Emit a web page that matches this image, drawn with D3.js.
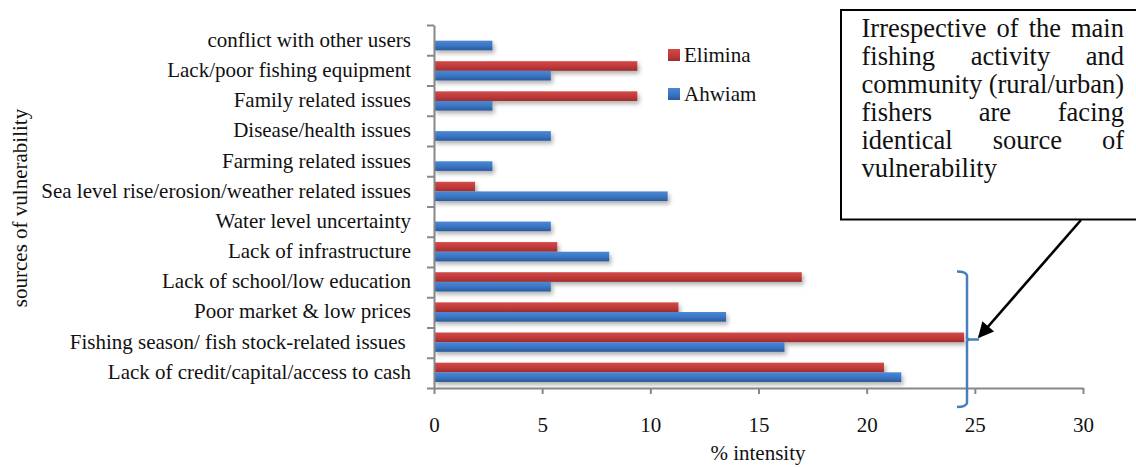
<!DOCTYPE html>
<html>
<head>
<meta charset="utf-8">
<script src="https://cdn.jsdelivr.net/npm/d3@7/dist/d3.min.js"></script>
<style>
  html, body { margin: 0; padding: 0; background: #fff; }
  svg { display: block; font-family: "Liberation Serif", "Times New Roman", serif; }
</style>
</head>
<body>
<svg id="chart" width="1136" height="467"></svg>
<script>
// Sources of vulnerability, listed top to bottom as they appear on the axis
const categories = [
  "conflict with other users",
  "Lack/poor fishing equipment",
  "Family related issues",
  "Disease/health issues",
  "Farming related issues",
  "Sea level rise/erosion/weather related issues",
  "Water level uncertainty",
  "Lack of infrastructure",
  "Lack of school/low education",
  "Poor market & low prices",
  "Fishing season/ fish stock-related issues ",
  "Lack of credit/capital/access to cash"
];
const seriesNames = ["Elimina", "Ahwiam"];
const elimina = [0, 9.4, 9.4, 0, 0, 1.9, 0, 5.7, 17.0, 11.3, 24.5, 20.8];
const ahwiam  = [2.7, 5.4, 2.7, 5.4, 2.7, 10.8, 5.4, 8.1, 5.4, 13.5, 16.2, 21.6];
const xTicks = [0, 5, 10, 15, 20, 25, 30];
const noteLines = [
  "Irrespective of the main",
  "fishing activity and",
  "community (rural/urban)",
  "fishers are facing",
  "identical source of",
  "vulnerability"
];

const FONT = "Liberation Serif, Times New Roman, serif";
const svg = d3.select("#chart");
const plot = { left: 434, right: 1083, top: 25, bottom: 388 };
const axisColor = "#878787";

const x = d3.scaleLinear().domain([0, 30]).range([plot.left, plot.right]);
const y = d3.scaleBand().domain(categories).range([plot.top, plot.bottom])
  .paddingInner(0.36).paddingOuter(0.2);
const ySub = d3.scaleBand().domain(seriesNames).range([0, y.bandwidth()]);
const color = { Elimina: ["#d24a48", "#c0393a", "#9c2d2e"], Ahwiam: ["#4a88d4", "#3a74c2", "#2c5998"] };

const defs = svg.append("defs");
seriesNames.forEach(name => {
  const g = defs.append("linearGradient").attr("id", "grad-" + name)
    .attr("x1", 0).attr("y1", 0).attr("x2", 0).attr("y2", 1);
  g.append("stop").attr("offset", "0%").attr("stop-color", color[name][0]);
  g.append("stop").attr("offset", "55%").attr("stop-color", color[name][1]);
  g.append("stop").attr("offset", "100%").attr("stop-color", color[name][2]);
});
const shadow = defs.append("filter").attr("id", "shadow")
  .attr("x", "-5%").attr("y", "-50%").attr("width", "120%").attr("height", "250%");
shadow.append("feDropShadow").attr("dx", 2).attr("dy", 3).attr("stdDeviation", 2)
  .attr("flood-color", "#000").attr("flood-opacity", 0.3);
defs.append("marker").attr("id", "arrowhead").attr("viewBox", "0 0 10 10")
  .attr("refX", 9).attr("refY", 5).attr("markerWidth", 7).attr("markerHeight", 6)
  .attr("markerUnits", "strokeWidth").attr("orient", "auto")
  .append("path").attr("d", "M0,0 L10,5 L0,10 z").attr("fill", "#000");

// Bars
const rows = categories.map((c, i) => ({ cat: c, Elimina: elimina[i], Ahwiam: ahwiam[i] }));
const groups = svg.append("g").selectAll("g").data(rows).join("g")
  .attr("transform", d => `translate(0,${y(d.cat)})`);
groups.selectAll("rect")
  .data(d => seriesNames.map(s => ({ s, v: d[s] })).filter(e => e.v > 0))
  .join("rect")
  .attr("x", x(0))
  .attr("y", d => ySub(d.s))
  .attr("width", d => x(d.v) - x(0))
  .attr("height", ySub.bandwidth())
  .attr("fill", d => `url(#grad-${d.s})`)
  .attr("filter", "url(#shadow)");

// X axis
const xAxis = svg.append("g").attr("transform", `translate(0,${plot.bottom})`)
  .call(d3.axisBottom(x).tickValues(xTicks).tickSize(6).tickSizeOuter(0).tickPadding(23));
xAxis.select(".domain").attr("stroke", axisColor).attr("stroke-width", 2);
xAxis.selectAll(".tick line").attr("stroke", axisColor).attr("stroke-width", 2);
xAxis.selectAll(".tick text").attr("font-size", 21).attr("fill", "#111")
  .attr("font-family", FONT);

// Y axis: ticks on category boundaries
const yEdge = d3.scaleLinear().domain([0, categories.length]).range([plot.top, plot.bottom]);
const yAxis = svg.append("g").attr("transform", `translate(${plot.left},0)`)
  .call(d3.axisLeft(yEdge).tickValues(d3.range(categories.length + 1)).tickSize(7)
    .tickSizeOuter(0).tickFormat(""));
yAxis.select(".domain").attr("stroke", axisColor).attr("stroke-width", 2);
yAxis.selectAll(".tick line").attr("stroke", axisColor).attr("stroke-width", 2);

// Category labels
svg.append("g").selectAll("text").data(categories).join("text")
  .attr("x", 411)
  .attr("y", d => y(d) + y.bandwidth() / 2 - 1)
  .attr("dy", "0.35em")
  .attr("text-anchor", "end")
  .attr("font-family", FONT)
  .attr("font-size", 21)
  .attr("fill", "#111")
  .style("white-space", "pre")
  .text(d => d);

// Axis titles
svg.append("text").attr("x", 758).attr("y", 460).attr("text-anchor", "middle")
  .attr("font-family", FONT).attr("font-size", 21).attr("fill", "#111").text("% intensity");
svg.append("text").attr("transform", "translate(27,208) rotate(-90)")
  .attr("text-anchor", "middle").attr("font-family", FONT).attr("font-size", 21).attr("fill", "#111")
  .text("sources of vulnerability");

// Legend
const legendY = [{ s: "Elimina", y: 49 }, { s: "Ahwiam", y: 88 }];
const legend = svg.append("g");
legend.selectAll("rect").data(legendY).join("rect")
  .attr("x", 668).attr("y", d => d.y).attr("width", 12).attr("height", 12)
  .attr("fill", d => `url(#grad-${d.s})`);
legend.selectAll("text").data(legendY).join("text")
  .attr("x", 684).attr("y", d => d.y + 13).attr("font-family", FONT)
  .attr("font-size", 21).attr("fill", "#111")
  .text(d => d.s);

// Bracket grouping the two leading sources
const bx = 967, bTop = 271.5, bBot = 407, bMid = 339.5;
svg.append("path")
  .attr("d", `M957,${bTop} Q966,${bTop} ${bx},${bTop + 4} L${bx},${bMid - 2} Q${bx},${bMid} ${bx + 3},${bMid} L979,${bMid}
              M${bx + 3},${bMid} Q${bx},${bMid} ${bx},${bMid + 2} L${bx},${bBot - 4} Q966,${bBot} 957,${bBot}`)
  .attr("fill", "none").attr("stroke", "#4a7ebb").attr("stroke-width", 2.5);

// Note box with justified text
svg.append("rect").attr("x", 841).attr("y", 10).attr("width", 310).attr("height", 209.5)
  .attr("fill", "#fff").attr("stroke", "#000").attr("stroke-width", 2);
const note = svg.append("g").attr("font-family", FONT).attr("font-size", 26.5).attr("fill", "#111");
const noteLeft = 861.5, noteRight = 1124, noteTop = 37, noteStep = 27.9;
noteLines.forEach((line, i) => {
  const words = line.split(" ");
  const yy = noteTop + i * noteStep;
  const nodes = words.map(w => note.append("text").attr("y", yy).text(w));
  const widths = nodes.map(n => n.node().getComputedTextLength());
  const total = d3.sum(widths);
  const last = i === noteLines.length - 1;
  const gap = (!last && words.length > 1) ? Math.max(6, (noteRight - noteLeft - total) / (words.length - 1)) : 6;
  let cx = noteLeft;
  nodes.forEach((n, k) => { n.attr("x", cx); cx += widths[k] + gap; });
});

// Arrow from the note to the bracket
svg.append("line").attr("x1", 1081).attr("y1", 220).attr("x2", 979).attr("y2", 337)
  .attr("stroke", "#000").attr("stroke-width", 2.6).attr("marker-end", "url(#arrowhead)");
</script>
</body>
</html>
